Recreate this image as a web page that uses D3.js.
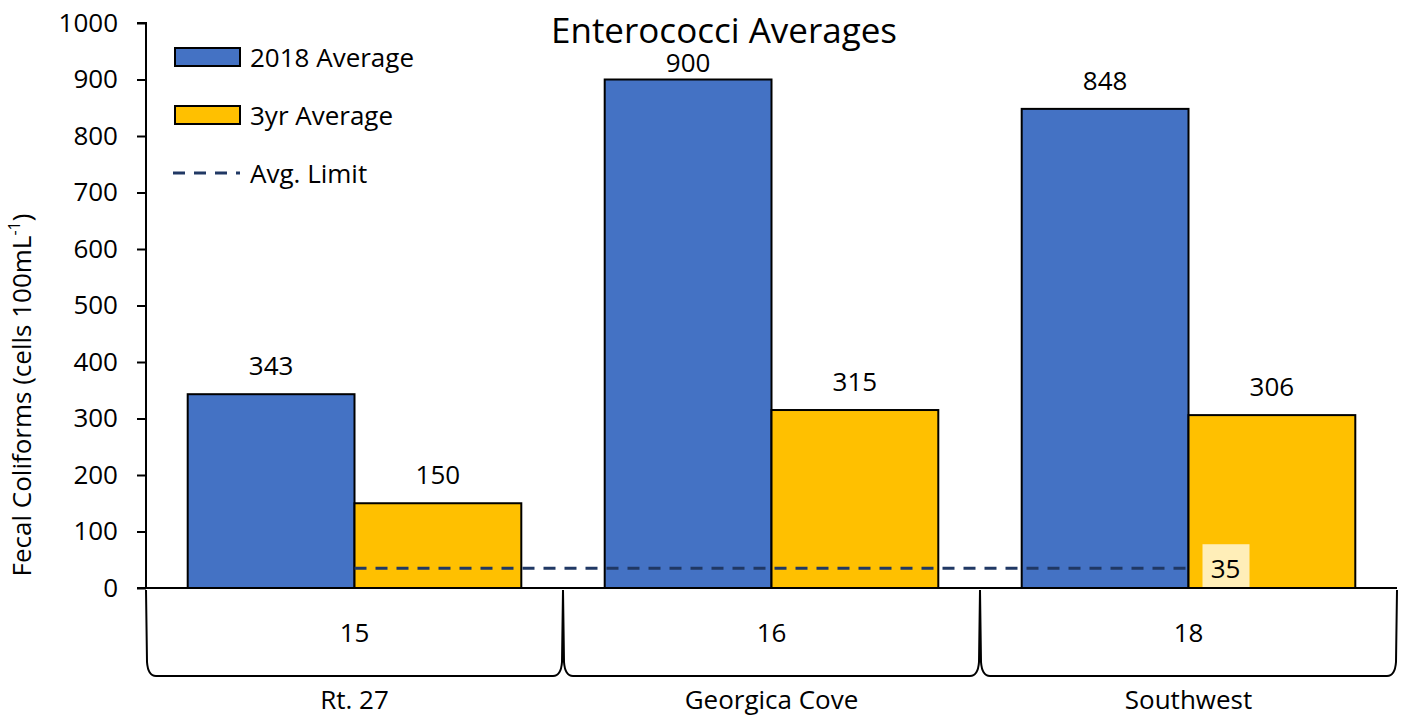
<!DOCTYPE html>
<html>
<head>
<meta charset="utf-8">
<script src="https://cdn.jsdelivr.net/npm/d3@7"></script>
<style>
  html, body { margin: 0; padding: 0; background: #fff; }
  svg { display: block; font-family: "Open Sans", "Noto Sans", sans-serif; }
</style>
</head>
<body>
<svg id="chart" width="1408" height="720"></svg>
<script>
// Sites (outer axis level) and station numbers (inner axis level)
const sites = ["Rt. 27", "Georgica Cove", "Southwest"];
const stations = ["15", "16", "18"];
const seriesNames = ["2018 Average", "3yr Average"];
const avg2018 = [343, 900, 848];
const avg3yr = [150, 315, 306];
const avgLimit = 35;
const yTicks = [0, 100, 200, 300, 400, 500, 600, 700, 800, 900, 1000];

const colors = { "2018 Average": "#4472C4", "3yr Average": "#FFC000" };
const limitColor = "#203864";
const FS = 26;

const svg = d3.select("#chart");
const plot = { left: 146, right: 1397, top: 23, bottom: 588 };

const x0 = d3.scaleBand().domain(sites).range([plot.left, plot.right]).padding(0);
const x1 = d3.scaleBand().domain(seriesNames).range([0, x0.bandwidth()])
  .paddingInner(0).paddingOuter(0.25);
const y = d3.scaleLinear().domain([0, 1000]).range([plot.bottom, plot.top]);

const rows = sites.map((s, i) => ({
  site: s, station: stations[i],
  values: [{ key: seriesNames[0], v: avg2018[i] }, { key: seriesNames[1], v: avg3yr[i] }]
}));

// Bars
const groups = svg.append("g").selectAll("g").data(rows).join("g")
  .attr("transform", d => `translate(${x0(d.site)},0)`);
groups.selectAll("rect").data(d => d.values).join("rect")
  .attr("x", d => x1(d.key))
  .attr("y", d => y(d.v))
  .attr("width", x1.bandwidth())
  .attr("height", d => y(0) - y(d.v))
  .attr("fill", d => colors[d.key])
  .attr("stroke", "#000")
  .attr("stroke-width", 2);

// Value labels (kept below the title band)
groups.selectAll("text.val").data(d => d.values).join("text")
  .attr("class", "val")
  .attr("x", d => x1(d.key) + x1.bandwidth() / 2)
  .attr("y", d => Math.max(y(d.v) - 19, 72))
  .attr("text-anchor", "middle")
  .attr("font-size", FS)
  .attr("fill", "#000")
  .text(d => d.v);

// Limit line from first to last site centre
const xc = s => x0(s) + x0.bandwidth() / 2;
svg.append("line")
  .attr("x1", xc(sites[0])).attr("x2", xc(sites[sites.length - 1]))
  .attr("y1", y(avgLimit)).attr("y2", y(avgLimit))
  .attr("stroke", limitColor).attr("stroke-width", 3)
  .attr("stroke-dasharray", "12,9");

// Limit label with pale box
const lx = xc(sites[sites.length - 1]) + 37;
svg.append("rect")
  .attr("x", lx - 23).attr("y", y(avgLimit) - 24)
  .attr("width", 47).attr("height", 45)
  .attr("fill", "#fff").attr("fill-opacity", 0.72);
svg.append("text")
  .attr("x", lx).attr("y", y(avgLimit) + 10)
  .attr("text-anchor", "middle").attr("font-size", FS)
  .text(avgLimit);

// Y axis
const yAxis = d3.axisLeft(y).tickValues(yTicks).tickFormat(d3.format("d"))
  .tickSize(9).tickPadding(19);
const yg = svg.append("g").attr("transform", `translate(${plot.left},0)`).call(yAxis);
yg.select(".domain").attr("stroke", "#000").attr("stroke-width", 2)
  .attr("d", `M-9,${plot.top}H0V${plot.bottom}`);
yg.selectAll(".tick line").attr("stroke", "#000").attr("stroke-width", 2);
yg.selectAll(".tick text").attr("font-size", FS).attr("fill", "#000")
  .attr("font-family", "'Open Sans', sans-serif");

// X axis baseline
svg.append("line")
  .attr("x1", plot.left - 9).attr("x2", plot.right)
  .attr("y1", y(0)).attr("y2", y(0))
  .attr("stroke", "#000").attr("stroke-width", 2);

// Bracket shapes under each site
const bTop = plot.bottom + 2, bBot = 676;
svg.append("g").selectAll("path").data(sites).join("path")
  .attr("d", s => {
    const a = x0(s), b = x0(s) + x0.bandwidth();
    return `M${a},${bTop} L${a + 1},${bBot - 14} Q${a + 2},${bBot} ${a + 10},${bBot}` +
      ` L${b - 10},${bBot} Q${b - 2},${bBot} ${b - 1},${bBot - 14} L${b},${bTop}`;
  })
  .attr("fill", "none").attr("stroke", "#000").attr("stroke-width", 2);

// Station labels
svg.append("g").selectAll("text").data(rows).join("text")
  .attr("x", d => xc(d.site)).attr("y", 642)
  .attr("text-anchor", "middle").attr("font-size", FS)
  .text(d => d.station);

// Site labels
svg.append("g").selectAll("text").data(rows).join("text")
  .attr("x", d => xc(d.site)).attr("y", 709)
  .attr("text-anchor", "middle").attr("font-size", FS)
  .text(d => d.site);

// Y axis title
svg.append("text")
  .attr("transform", `translate(31,395) rotate(-90)`)
  .attr("text-anchor", "middle").attr("font-size", FS)
  .call(t => {
    t.append("tspan").text("Fecal Coliforms (cells 100mL");
    t.append("tspan").attr("baseline-shift", "super").attr("font-size", 16).text("-1");
    t.append("tspan").text(")");
  });

// Title
svg.append("text")
  .attr("x", 724).attr("y", 43)
  .attr("text-anchor", "middle").attr("font-size", 35)
  .text("Enterococci Averages");

// Legend
const leg = svg.append("g");
seriesNames.forEach((n, i) => {
  const ly = 57 + i * 58;
  leg.append("rect").attr("x", 175).attr("y", ly - 9).attr("width", 65).attr("height", 18)
    .attr("fill", colors[n]).attr("stroke", "#000").attr("stroke-width", 2);
  leg.append("text").attr("x", 250).attr("y", ly + 10).attr("font-size", FS).text(n);
});
leg.append("line").attr("x1", 173).attr("x2", 240).attr("y1", 173).attr("y2", 173)
  .attr("stroke", limitColor).attr("stroke-width", 3).attr("stroke-dasharray", "12,9");
leg.append("text").attr("x", 250).attr("y", 183).attr("font-size", FS).text("Avg. Limit");
</script>
</body>
</html>
